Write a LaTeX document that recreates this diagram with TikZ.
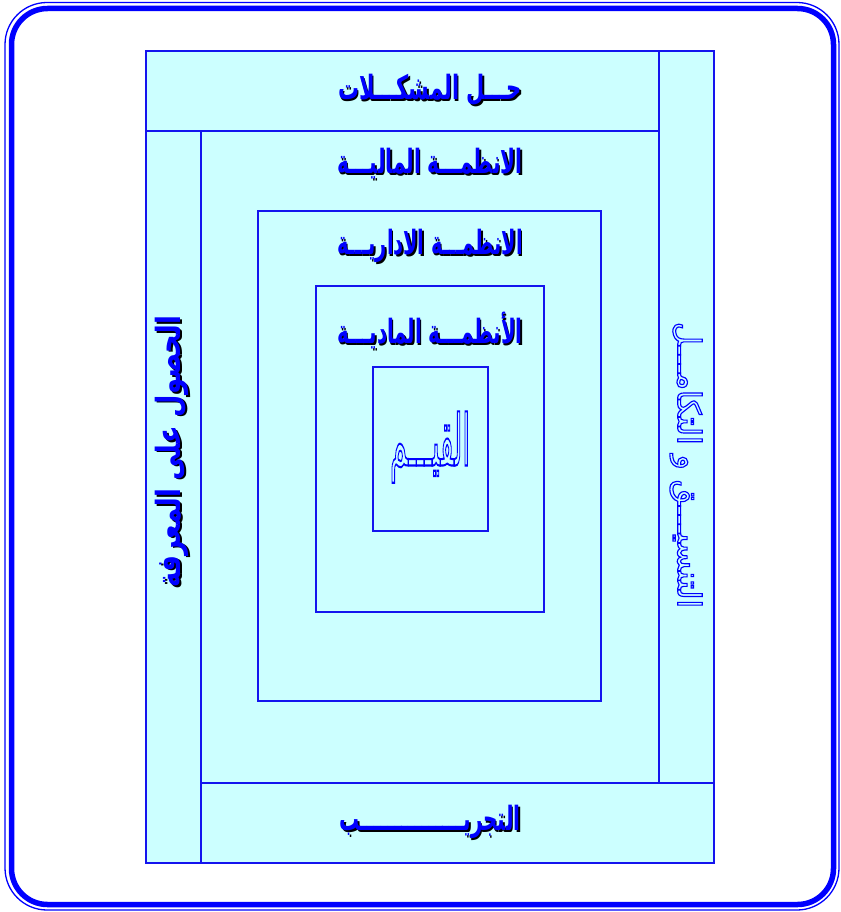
\documentclass[tikz,border=0pt]{standalone}
\usepackage{graphicx}
\usepackage{fontspec}
\TeXXeTstate=1
\newfontfamily\arabicfont[Script=Arabic]{DejaVu Sans}
\definecolor{boxfill}{HTML}{CCFFFF}
\definecolor{boxline}{HTML}{1414EE}
\definecolor{txtblue}{HTML}{0000FF}
\newcommand\hollowon[1]{\special{pdf:literal direct 1 Tr #1 w}}
\newcommand\hollowoff{\special{pdf:literal direct 0 Tr}}
\begin{document}
\begin{tikzpicture}[x=1pt,y=-1pt,
  box/.style={draw=boxline, fill=boxfill, line width=1.8pt},
  lbl/.style={font=\arabicfont\bfseries\fontsize{23}{26}\selectfont, text=txtblue, inner sep=0pt},
  shade/.style={lbl, text=black},
  hollow/.style={font=\arabicfont\fontsize{#1}{#1}\selectfont, text=txtblue, inner sep=0pt}]
\useasboundingbox (0,0) rectangle (840,912);
% outer frame
\draw[draw=txtblue, line width=1.3pt, rounded corners=42pt] (5,2.5) rectangle (839,910);
\draw[draw=txtblue, line width=5.5pt, rounded corners=36pt] (11.5,8.5) rectangle (833.5,904.5);
% boxes
\node[box, minimum width=513pt, minimum height=80pt, anchor=north west] (top) at (145,50) {};
\node[box, minimum width=55pt, minimum height=732pt, anchor=north west] (right) at (658,50) {};
\node[box, minimum width=55pt, minimum height=732pt, anchor=north west] (left) at (145,130) {};
\node[box, minimum width=513pt, minimum height=80pt, anchor=north west] (bottom) at (200,782) {};
\node[box, minimum width=458pt, minimum height=652pt, anchor=north west] (fin) at (200,130) {};
\node[box, minimum width=343pt, minimum height=490pt, anchor=north west] (adm) at (257,210) {};
\node[box, minimum width=228pt, minimum height=326pt, anchor=north west] (mat) at (315,285) {};
\node[box, minimum width=115pt, minimum height=164pt, anchor=north west] (val) at (372,366) {};
% labels with shadow
\node[shade] (topS) at (431.5,91.5) {\scalebox{0.91}[1.45]{\beginR حـــل المشكـــلات\endR}};
\node[lbl] (topT) at (430,90) {\scalebox{0.91}[1.45]{\beginR حـــل المشكـــلات\endR}};
\node[shade] (finS) at (431.5,165.5) {\scalebox{0.87}[1.45]{\beginR الانظمـــة الماليـــة\endR}};
\node[lbl] (finT) at (430,164) {\scalebox{0.87}[1.45]{\beginR الانظمـــة الماليـــة\endR}};
\node[shade] (admS) at (431.5,247.5) {\scalebox{0.84}[1.45]{\beginR الانظمـــة الاداريـــة\endR}};
\node[lbl] (admT) at (430,246) {\scalebox{0.84}[1.45]{\beginR الانظمـــة الاداريـــة\endR}};
\node[shade] (matS) at (431.5,332.5) {\scalebox{0.86}[1.45]{\beginR الأنظمـــة الماديـــة\endR}};
\node[lbl] (matT) at (430,331) {\scalebox{0.86}[1.45]{\beginR الأنظمـــة الماديـــة\endR}};
\node[shade] (botS) at (431.5,823.5) {\scalebox{0.87}[1.45]{\beginR التجريـــــــــــــــب\endR}};
\node[lbl] (botT) at (430,822) {\scalebox{0.87}[1.45]{\beginR التجريـــــــــــــــب\endR}};
\node[shade, rotate=90] (leftS) at (173.5,453.5) {\scalebox{1.12}[1.45]{\beginR الحصول على المعرفة\endR}};
\node[lbl, rotate=90] (leftT) at (172,452) {\scalebox{1.12}[1.45]{\beginR الحصول على المعرفة\endR}};
% hollow labels
\node[hollow=34] (valT) at (430,447) {\scalebox{0.8}[2.1]{\hollowon{1.0}\beginR القيـــم\endR\hollowoff}};
\node[hollow=28, rotate=-90] (rightT) at (686,465) {\scalebox{1.12}[1.15]{\hollowon{1.0}\beginR التنسيـــق و التكامـــل\endR\hollowoff}};
\end{tikzpicture}
\end{document}
